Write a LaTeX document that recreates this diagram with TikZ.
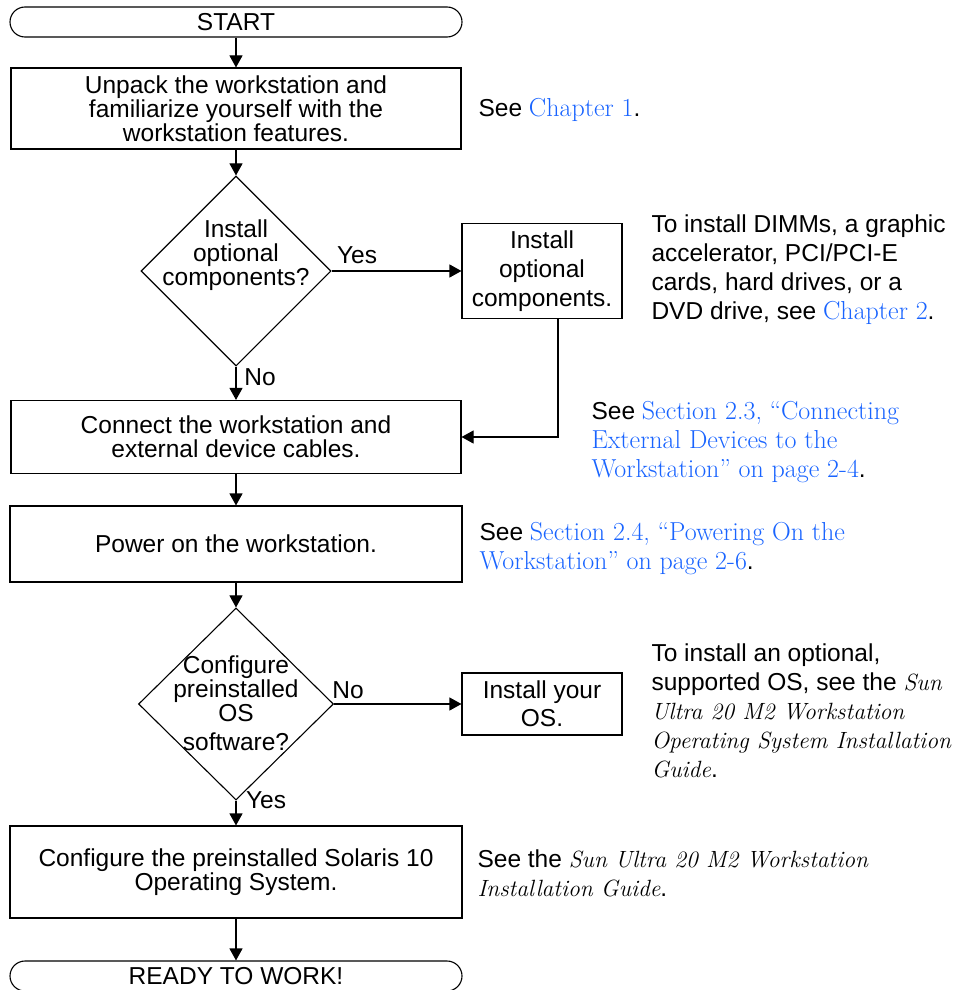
\documentclass[tikz,border=0pt]{standalone}
\usepackage{fontspec}
\usetikzlibrary{shapes.geometric,arrows.meta}
\newfontfamily\helv{Liberation Sans}
\definecolor{linkblue}{RGB}{25,100,255}
\newcommand\lnk[1]{\textcolor{linkblue}{\rmfamily\fontsize{26}{29}\selectfont #1}}
\newcommand\bk[1]{{\rmfamily\itshape\fontsize{23.5}{29}\selectfont #1}}
\begin{document}
\begin{tikzpicture}[x=1pt,y=-1pt,line width=1.1pt,
    >={Triangle[length=12pt,width=13pt]},
    box/.style={draw,rectangle,inner sep=0pt,align=center,font=\helv\fontsize{24.5}{24}\selectfont},
    term/.style={box,rounded corners=15pt},
    dec/.style={draw,diamond,inner sep=0pt},
    txt/.style={inner sep=0pt,align=center,font=\helv\fontsize{24.5}{24}\selectfont},
    note/.style={inner sep=0pt,anchor=west,align=left,font=\helv\fontsize{24.5}{29}\selectfont}]
  \useasboundingbox (0,0) rectangle (956,990);

  \node[term,minimum width=452pt,minimum height=30pt] (start) at (236,22) {START};
  \node[box,minimum width=450pt,minimum height=81pt] (unpack) at (236,108.5) {Unpack the workstation and\\familiarize yourself with the\\workstation features.};
  \node[dec,minimum width=190pt,minimum height=190pt] (inst) at (236,271) {};
  \node[txt] (insttxt) at (236,255) {Install\\optional\\components?};
  \node[box,minimum width=160pt,minimum height=95pt,font=\helv\fontsize{24.5}{29}\selectfont] (opt) at (542,271) {Install\\optional\\components.};
  \node[box,minimum width=450pt,minimum height=73pt] (connect) at (236,437) {Connect the workstation and\\external device cables.};
  \node[box,minimum width=452pt,minimum height=76pt] (power) at (236,544) {Power on the workstation.};
  \node[dec,minimum width=195pt,minimum height=192pt] (cfg) at (236,704) {};
  \node[txt] (cfgtxt) at (236,703) {Configure\\preinstalled\\OS\\[5pt]software?};
  \node[box,minimum width=160pt,minimum height=62pt,font=\helv\fontsize{24.5}{28}\selectfont] (os) at (542,704) {Install your\\OS.};
  \node[box,minimum width=452pt,minimum height=92pt] (solaris) at (236,872) {Configure the preinstalled Solaris 10\\Operating System.};
  \node[term,minimum width=452pt,minimum height=30pt] (ready) at (236,976) {READY TO WORK!};

  \draw[->] (start) -- (unpack);
  \draw[->] (unpack) -- (inst);
  \draw[->] (inst.east) -- (opt.west);
  \draw[->] (inst.south) -- (connect);
  \draw[->] ([xshift=16pt]opt.south) |- (connect.east);
  \draw[->] (connect) -- (power);
  \draw[->] (power) -- (cfg);
  \draw[->] (cfg.east) -- (os.west);
  \draw[->] (cfg.south) -- (solaris);
  \draw[->] (solaris) -- (ready);

  \node[txt] (yes1) at (357,255) {Yes};
  \node[txt] (no1) at (260,377) {No};
  \node[txt] (no2) at (348,690) {No};
  \node[txt] (yes2) at (266,800) {Yes};

  \node[note] (n1) at (478,110) {See \lnk{Chapter 1}.};
  \node[note] (n2) at (651,270) {To install DIMMs, a graphic\\accelerator, PCI/PCI-E\\cards, hard drives, or a\\DVD drive, see \lnk{Chapter 2}.};
  \node[note] (n3) at (591,442) {See \lnk{Section 2.3, “Connecting}\\\lnk{External Devices to the}\\\lnk{Workstation” on page 2-4}.};
  \node[note] (n4) at (479,549) {See \lnk{Section 2.4, “Powering On the}\\\lnk{Workstation” on page 2-6}.};
  \node[note] (n5) at (651,711) {To install an optional,\\supported OS, see the \bk{Sun}\\\bk{Ultra 20 M2 Workstation}\\\bk{Operating System Installation}\\\bk{Guide}.};
  \node[note] (n6) at (477,873) {See the \bk{Sun Ultra 20 M2 Workstation}\\\bk{Installation Guide}.};
\end{tikzpicture}
\end{document}
